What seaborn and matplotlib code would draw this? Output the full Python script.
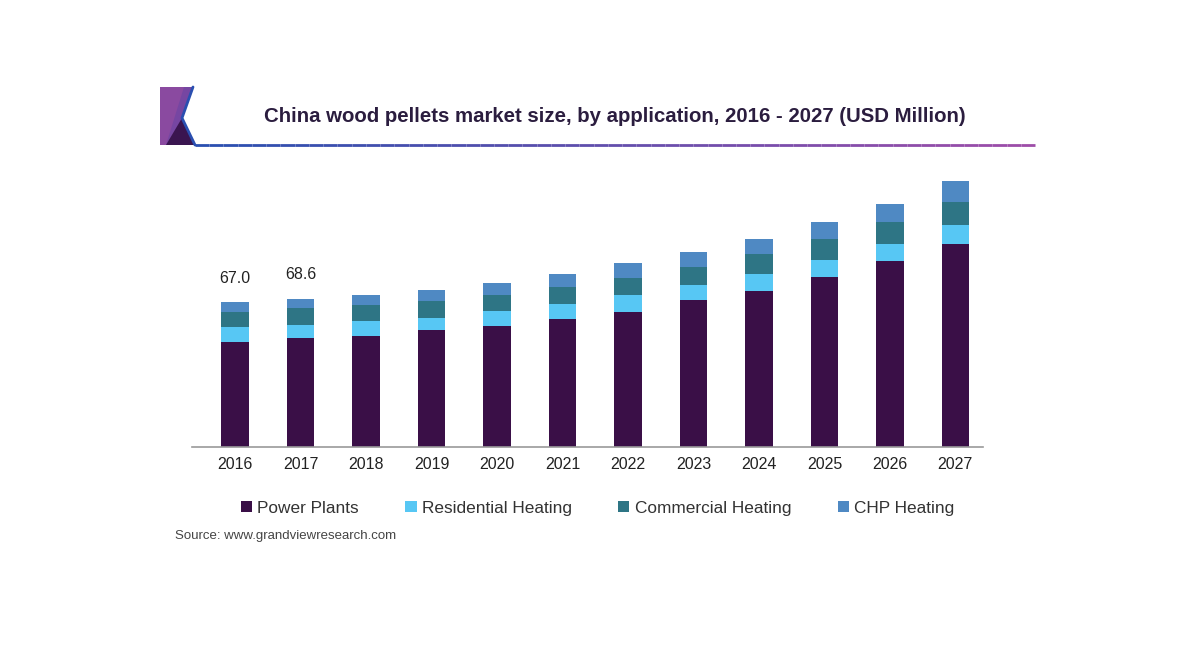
import numpy as np
import pandas as pd
import seaborn as sns
import matplotlib.pyplot as plt
from matplotlib.patches import Polygon, Patch

# valores (USD Million)
years = ["2016", "2017", "2018", "2019", "2020", "2021", "2022", "2023", "2024", "2025", "2026", "2027"]
power_plants = [48.6, 50.4, 51.1, 54.0, 56.0, 59.3, 62.6, 67.9, 72.2, 78.4, 86.1, 94.0]
residential = [6.9, 6.1, 7.3, 5.7, 6.9, 6.9, 7.7, 6.8, 7.7, 7.9, 7.9, 8.5]
commercial = [6.9, 7.8, 7.4, 7.7, 7.4, 7.5, 7.7, 8.5, 9.4, 9.9, 9.9, 10.8]
chp = [4.6, 4.3, 4.3, 5.2, 5.4, 6.2, 6.9, 6.9, 6.8, 7.9, 8.6, 9.5]
labeled_totals = {"2016": "67.0", "2017": "68.6"}

segments = ["Power Plants", "Residential Heating", "Commercial Heating", "CHP Heating"]
colors = ["#3a0f47", "#57c7f4", "#2e7585", "#4f89c3"]

df = pd.DataFrame({"Year": years, "Power Plants": power_plants,
                   "Residential Heating": residential,
                   "Commercial Heating": commercial, "CHP Heating": chp})

sns.set_theme(style="white")
plt.rcParams["font.family"] = ["Liberation Sans", "DejaVu Sans"]

fig = plt.figure(figsize=(12, 6.5), dpi=100)
ax = fig.add_axes([0.16, 0.3123, 0.659, 0.4262])

# barras empilhadas: desenha do topo (total) para baixo
cum = df[segments].cumsum(axis=1)
for seg, col in reversed(list(zip(segments, colors))):
    sns.barplot(x=df["Year"], y=cum[seg], color=col, width=0.42, saturation=1,
                linewidth=0, ax=ax)

totals = cum[segments[-1]].values
for i, yr in enumerate(years):
    if yr in labeled_totals:
        ax.annotate(labeled_totals[yr], (i, totals[i]), xytext=(0, 17),
                    textcoords="offset points", ha="center", va="center",
                    fontsize=11.5, color="#222222")

ax.set_xlim(-0.66, 11.42)
ax.set_ylim(0, 128)
ax.set_xlabel("")
ax.set_ylabel("")
ax.set_yticks([])
ax.tick_params(axis="x", length=0, pad=7, labelsize=11.5, labelcolor="#222222")
for s in ["top", "right", "left"]:
    ax.spines[s].set_visible(False)
ax.spines["bottom"].set_color("#9a9a9a")
ax.spines["bottom"].set_linewidth(1.2)

# legenda
handles = [Patch(facecolor=c, edgecolor="none") for c in colors]
fig.legend(handles, segments, loc="center", bbox_to_anchor=(0.498, 0.218), ncol=4,
           frameon=False, fontsize=12.4, handlelength=0.65, handleheight=0.65,
           handletextpad=0.3, columnspacing=2.7, labelcolor="#333333")

# titulo
fig.text(0.5125, 1 - 116 / 650, "China wood pellets market size, by application, 2016 - 2027 (USD Million)",
         ha="center", va="center", fontsize=14.7, fontweight="bold", color="#2b1d3f")

# logo e linha do cabecalho
W, H = 1200, 650
def fc(pts):
    return [(x / W, 1 - y / H) for x, y in pts]

fig.patches.append(Polygon(fc([(160, 87), (193, 87), (182, 118), (195, 145), (160, 145)]),
                           closed=True, facecolor="#7646a2", edgecolor="none",
                           transform=fig.transFigure, figure=fig))
fig.patches.append(Polygon(fc([(160, 87), (184, 87), (166, 145), (160, 145)]),
                           closed=True, facecolor="#8a4aa0", edgecolor="none",
                           transform=fig.transFigure, figure=fig))
fig.patches.append(Polygon(fc([(166, 145), (182, 118), (195, 145)]),
                           closed=True, facecolor="#3a1550", edgecolor="none",
                           transform=fig.transFigure, figure=fig))
lx, ly = zip(*fc([(193, 87), (182, 118), (195, 145)]))
fig.add_artist(plt.Line2D(lx, ly, color="#2a4fb0", lw=2, transform=fig.transFigure))

xs = np.linspace(195, 1035, 60)
c0 = np.array([0.16, 0.31, 0.69])
c1 = np.array([0.62, 0.30, 0.66])
for k in range(len(xs) - 1):
    t = k / (len(xs) - 2)
    fig.add_artist(plt.Line2D([xs[k] / W, xs[k + 1] / W], [1 - 145 / H] * 2,
                              color=c0 * (1 - t) + c1 * t, lw=2,
                              solid_capstyle="butt", transform=fig.transFigure))

fig.text(175 / W, 1 - 536 / H, "Source: www.grandviewresearch.com", ha="left", va="center",
         fontsize=9.5, color="#444444")

plt.savefig("out.png", dpi=100, facecolor="white")
